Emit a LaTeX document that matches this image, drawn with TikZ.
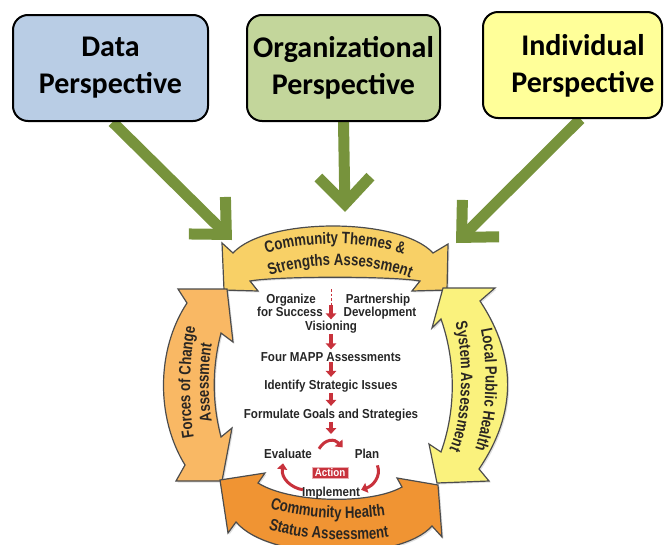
\documentclass[tikz,border=0pt]{standalone}
\usepackage{fontspec}
\setmainfont{Liberation Sans}
\newfontfamily\boxfont{Carlito}
\newfontfamily\ringfont[FakeStretch=0.8]{Liberation Sans}
\newfontfamily\midfont[FakeStretch=0.89]{Liberation Sans}
\newcommand\ringtext{\ringfont\bfseries\fontsize{16.5}{17}\selectfont}
\newcommand\midtext{\midfont\bfseries\fontsize{13}{13}\selectfont}
\usetikzlibrary{arrows.meta,decorations.text,backgrounds,shadows,positioning}
\definecolor{dataBlue}{HTML}{B9CDE5}
\definecolor{orgGreen}{HTML}{C3D69B}
\definecolor{indYellow}{HTML}{FFFF99}
\definecolor{feedGreen}{HTML}{77933C}
\definecolor{themeGold}{HTML}{F8D066}
\definecolor{forcePeach}{HTML}{F9B864}
\definecolor{systemYellow}{HTML}{FAF27D}
\definecolor{statusOrange}{HTML}{F09433}
\definecolor{mappRed}{HTML}{C8323C}
\definecolor{ringInk}{HTML}{2A2622}
\tikzset{
 persp/.style={draw=black,line width=2pt,rounded corners=15pt,minimum height=106pt,inner sep=0pt,align=center,font=\boxfont\bfseries\fontsize{30}{37}\selectfont},
 persptext/.style={inner sep=0pt,align=center,font=\boxfont\bfseries\fontsize{30}{37}\selectfont},
 feed/.style={draw=feedGreen,line width=11pt,-{Straight Barb[length=27pt,width=52pt]}},
 band/.style={draw=black!70,line width=1.2pt,line join=miter,drop shadow={opacity=0.25,shadow xshift=1.5pt,shadow yshift=-1.5pt}},
 ringlabel/.style={decorate,decoration={text along path,text align=center,text color=ringInk,text={|\ringtext|#1}}},
 phase/.style={font=\midtext,text=black!85,inner sep=1pt,anchor=base},
 redarr/.style={draw=mappRed,line width=3.2pt,-{Triangle[length=6pt,width=10.5pt]}},
 cyclearr/.style={draw=mappRed,line width=3pt,-{Triangle[length=6pt,width=10pt]}}
}
\begin{document}
\begin{tikzpicture}[x=1pt,y=-1pt]
 \useasboundingbox (0,0) rectangle (668,544);
 \draw[band,fill=themeGold] (224,290) -- (222,243) -- (233,253) .. controls (266,217) and (400,217) .. (433,253) -- (448,244) -- (447,290) -- (412,291) -- (420,281) .. controls (392,276) and (278,276) .. (250,281) -- (258,291) -- cycle;
 \draw[band,fill=forcePeach] (178,289) -- (227,289) -- (233,342) -- (221,333) .. controls (212,368) and (212,402) .. (221,437) -- (232,428) -- (222,481) -- (176,481) -- (185,465) .. controls (156,418) and (156,350) .. (187,303) -- cycle;
 \draw[band,fill=systemYellow] (443,288) -- (495,288) -- (480,301) .. controls (517,357) and (517,413) .. (479,469) -- (489,481) -- (437,483) -- (429,444) -- (441,452) .. controls (456,410) and (456,362) .. (441,319) -- (432,328) -- cycle;
 \draw[band,fill=statusOrange] (220,480) -- (265,473) -- (258,483) .. controls (290,503) and (370,505) .. (402,487) -- (397,478) -- (438,485) -- (442,537) -- (432,526) .. controls (400,562) and (270,562) .. (236,522) -- (228,533) -- cycle;
 \path[ringlabel={Community Themes {\&}}] (255,258) .. controls (295,239) and (375,239) .. (415,259);
 \path[ringlabel={Strengths Assessment}] (255,283) .. controls (295,259) and (380,259) .. (425,285);
 \path[ringlabel={Forces of Change}] (196,447) .. controls (188,418) and (188,350) .. (198,318);
 \path[ringlabel={Assessment}] (214,430) .. controls (207,405) and (207,360) .. (214,335);
 \path[ringlabel={Local Public Health}] (478,318) .. controls (489,355) and (489,420) .. (471,460);
 \path[ringlabel={System Assessment}] (455,322) .. controls (464,355) and (464,420) .. (449,450);
 \path[ringlabel={Community Health}] (258,503) .. controls (290,520) and (360,522) .. (398,513);
 \path[ringlabel={Status Assessment}] (258,525) .. controls (290,540) and (360,544) .. (400,535);
 \node[persp,fill=dataBlue,minimum width=195pt] (data) at (110.5,68) {Data\\Perspective};
 \node[persp,fill=orgGreen,minimum width=193pt] (org) at (343.5,68) {Organizational\\Perspective};
 \node[persp,fill=indYellow,minimum width=179pt] (indiv) at (572.5,65) {};
 \node[persptext] (indivtext) at (583,66) {Individual\\Perspective};
 \coordinate (datatip) at (232,240);
 \coordinate (orgtip) at (345,212);
 \coordinate (indivtip) at (456,243);
 \begin{scope}[on background layer]
  \draw[feed] ([xshift=2pt]data.south) -- (datatip);
  \draw[feed] (org.south) -- (orgtip);
  \draw[feed] ([xshift=8pt]indiv.south) -- (indivtip);
 \end{scope}
 \node[phase] (organize) at (291,303) {Organize};
 \node[phase] (success) at (290,316) {for Success};
 \node[phase] (partner) at (378,303) {Partnership};
 \node[phase] (develop) at (380,316) {Development};
 \node[phase] (vision) at (331,330) {Visioning};
 \node[phase] (four) at (331,361) {Four MAPP Assessments};
 \node[phase] (ident) at (331,389) {Identify Strategic Issues};
 \node[phase] (formulate) at (331,418) {Formulate Goals and Strategies};
 \node[phase] (eval) at (288,458) {Evaluate};
 \node[phase] (plan) at (367,458) {Plan};
 \node[phase] (impl) at (331,496) {Implement};
 \node[fill=mappRed,draw=mappRed!40,line width=0.6pt,text=white,font=\midfont\bfseries\fontsize{11}{11}\selectfont,minimum width=36pt,minimum height=11pt,inner sep=0pt] (act) at (330,473) {Action};
 \coordinate (splittop) at (331,289);
 \coordinate (split) at (331,305);
 \coordinate (cyc) at (331,434);
 \draw[mappRed,line width=1pt,dash pattern=on 2.5pt off 2pt] (splittop) -- (split);
 \draw[redarr] (split) -- (vision.north);
 \draw[redarr,shorten >=1.5pt] (vision.south) -- (four.north);
 \draw[redarr,shorten >=1.5pt] (four.south) -- (ident.north);
 \draw[redarr,shorten >=1.5pt] (ident.south) -- (formulate.north);
 \draw[redarr] (formulate.south) -- (cyc);
 \draw[cyclearr] ([xshift=6pt,yshift=-1.4pt]eval.north east) .. controls +(6,-10) and +(-8,-9) .. ([xshift=-11pt]plan.north west);
 \draw[cyclearr] ([xshift=-3pt,yshift=-6pt]plan.south east) .. controls +(4,11) and +(12,-4) .. ([yshift=-4.4pt]impl.north east);
 \draw[cyclearr] ([xshift=2pt,yshift=-4.4pt]impl.north west) .. controls +(-12,-2) and +(-2,15) .. ([xshift=20pt,yshift=-4pt]eval.south west);
\end{tikzpicture}
\end{document}
